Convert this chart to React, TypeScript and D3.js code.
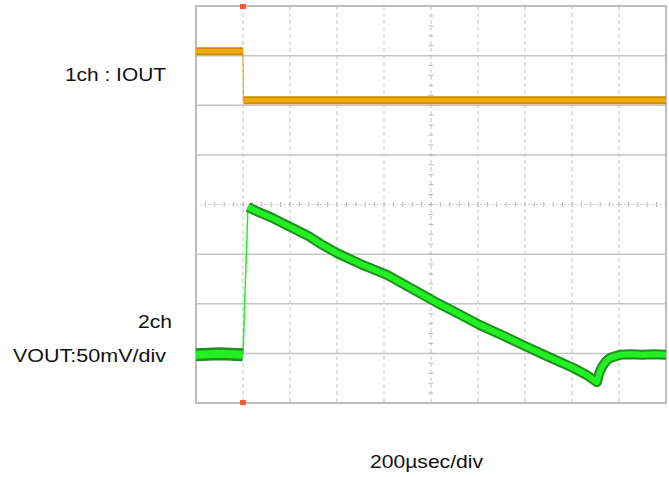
import React from "react";
import * as d3 from "d3";

// time in µs (200 µs/div), amplitude in screen divisions (0..8 from bottom)
const ioutHigh: [number, number][] = [[0, 7.09], [200, 7.09]];
const ioutEdge: [number, number][] = [[200, 7.09], [202, 6.1]];
const ioutLow: [number, number][] = [[202, 6.1], [2000, 6.1]];

const voutPre: [number, number][] = [[0, 0.97], [100, 0.99], [199, 0.97]];
const voutEdge: [number, number][] = [[200, 0.97], [221, 3.95]];
const voutDecay: [number, number][] = [
  [221, 3.95], [260, 3.86], [320, 3.74], [400, 3.55], [480, 3.36], [540, 3.18],
  [600, 3.02], [700, 2.8], [813, 2.58], [920, 2.3], [1026, 2.02], [1120, 1.79],
  [1208, 1.57], [1310, 1.35], [1409, 1.13], [1500, 0.93], [1604, 0.71], [1660, 0.57],
  [1706, 0.42], [1716, 0.6], [1728, 0.73], [1745, 0.84], [1762, 0.91], [1804, 0.97],
  [1850, 0.98], [1900, 0.97], [1950, 0.98], [2000, 0.97],
];

const xDivs = d3.range(0, 11);
const yDivs = d3.range(0, 9);
const minorX = d3.range(0, 10.01, 0.2);
const minorY = d3.range(0, 8.01, 0.2);

const labelIout = "1ch : IOUT";
const labelCh2 = "2ch";
const labelVout = "VOUT:50mV/div";
const labelTime = "200\u00b5sec/div";

export default function App() {
  const W = 669, H = 477;
  const x = d3.scaleLinear().domain([0, 2000]).range([196, 666]);
  const xd = d3.scaleLinear().domain([0, 10]).range([196, 666]);
  const y = d3.scaleLinear().domain([0, 8]).range([403, 6]);
  const line = d3.line<[number, number]>().x((d) => x(d[0])).y((d) => y(d[1])).curve(d3.curveLinear);
  const font = "Arial, 'Liberation Sans', Helvetica, sans-serif";
  const orangeDark = "#c98a00", orange = "#f2ab0c";
  const greenDark = "#1f8f1f", green = "#22f022";

  return (
    <svg width={W} height={H} style={{ position: "absolute", left: 0, top: 0, background: "#fff" }}>
      {/* vertical dashed grid */}
      {xDivs.slice(1, -1).map((d) => (
        <line key={"vx" + d} x1={xd(d)} x2={xd(d)} y1={y(8)} y2={y(0)} stroke="#c9d2c9" strokeWidth={1.2} strokeDasharray="4,3" />
      ))}
      {/* horizontal grid */}
      {yDivs.slice(1, -1).map((d) => (
        <line key={"hy" + d} x1={xd(0)} x2={xd(10)} y1={y(d)} y2={y(d)} stroke={d === 4 ? "#d4d4d4" : "#c4c4c4"} strokeWidth={d === 4 ? 1 : 1.5} strokeDasharray={d === 4 ? "2,2" : undefined} />
      ))}
      {/* minor ticks on center lines */}
      {minorX.map((d) => (
        <line key={"mx" + d} x1={xd(d)} x2={xd(d)} y1={y(4) - 2.5} y2={y(4) + 2.5} stroke="#b8b8b8" strokeWidth={1} />
      ))}
      {minorY.map((d) => (
        <line key={"my" + d} x1={xd(5) - 2.5} x2={xd(5) + 2.5} y1={y(d)} y2={y(d)} stroke="#b8b8b8" strokeWidth={1} />
      ))}
      {/* border */}
      <rect x={xd(0)} y={y(8)} width={xd(10) - xd(0)} height={y(0) - y(8)} fill="none" stroke="#bdbdbd" strokeWidth={2} />

      {/* ch1 IOUT */}
      <path d={line(ioutEdge) || ""} fill="none" stroke={orange} strokeWidth={1.2} />
      {[ioutHigh, ioutLow].map((s, i) => (
        <g key={"io" + i}>
          <path d={line(s) || ""} fill="none" stroke={orangeDark} strokeWidth={8} />
          <path d={line(s) || ""} fill="none" stroke={orange} strokeWidth={4.5} />
        </g>
      ))}

      {/* ch2 VOUT */}
      <path d={line(voutEdge) || ""} fill="none" stroke={green} strokeWidth={1.5} />
      <path d={line(voutPre) || ""} fill="none" stroke={greenDark} strokeWidth={13} />
      <path d={line(voutPre) || ""} fill="none" stroke={green} strokeWidth={8} />
      <path d={line(voutDecay) || ""} fill="none" stroke={greenDark} strokeWidth={10} strokeLinejoin="round" />
      <path d={line(voutDecay) || ""} fill="none" stroke={green} strokeWidth={6} strokeLinejoin="round" />

      {/* trigger markers */}
      <rect x={x(200) - 3} y={y(8) - 2} width={6} height={5} fill="#ff5a2e" />
      <rect x={x(200) - 3} y={y(0) - 3} width={6} height={5} fill="#ff5a2e" />

      {/* labels */}
      <g fontFamily={font} fontSize={18} fill="#111">
        <text x={65} y={81} textLength={101} lengthAdjust="spacingAndGlyphs">{labelIout}</text>
        <text x={138} y={328} textLength={34} lengthAdjust="spacingAndGlyphs">{labelCh2}</text>
        <text x={13} y={362} textLength={153} lengthAdjust="spacingAndGlyphs">{labelVout}</text>
        <text x={370} y={468} textLength={113} lengthAdjust="spacingAndGlyphs">{labelTime}</text>
      </g>
    </svg>
  );
}
